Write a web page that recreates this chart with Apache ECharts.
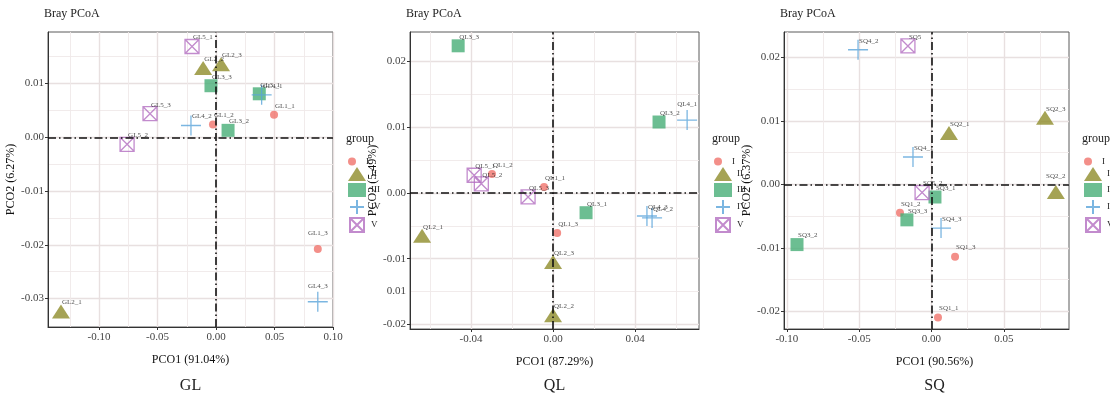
<!DOCTYPE html>
<html>
<head>
<meta charset="utf-8">
<script src="https://cdn.jsdelivr.net/npm/echarts@6/dist/echarts.min.js"></script>
<style>
  html, body { margin: 0; padding: 0; background: #fff; }
  #chart { width: 1110px; height: 397px; }
</style>
</head>
<body>
<div id="chart"></div>
<script>
const groups = ["I", "II", "III", "IV", "V"];

// GL panel
const glNames = ["GL1_1", "GL1_2", "GL1_3", "GL2_1", "GL2_2", "GL2_3", "GL3_1", "GL3_2", "GL3_3", "GL4_1", "GL4_2", "GL4_3", "GL5_1", "GL5_2", "GL5_3"];
const glGroup = ["I", "I", "I", "II", "II", "II", "III", "III", "III", "IV", "IV", "IV", "V", "V", "V"];
const glX = [0.0496, -0.0026, 0.087, -0.1325, -0.011, 0.0043, 0.037, 0.0103, -0.0043, 0.039, -0.0214, 0.087, -0.0205, -0.076, -0.0564];
const glY = [0.0042, 0.0024, -0.0208, -0.0324, 0.0129, 0.0136, 0.0081, 0.0013, 0.0096, 0.0079, 0.0022, -0.0306, 0.0169, -0.0013, 0.0044];
const glXRange = [-0.1436, 0.10];
const glYRange = [-0.0353, 0.0196];
const glXTicks = [-0.10, -0.05, 0, 0.05, 0.10];
const glXMinor = [-0.125, -0.075, -0.025, 0.025, 0.075];
const glYTicks = [-0.03, -0.02, -0.01, 0, 0.01];
const glYMinor = [-0.025, -0.015, -0.005, 0.005, 0.015];
const glYLabels = ["-0.03", "-0.02", "-0.01", "0.00", "0.01"];
const glXLabels = ["-0.10", "-0.05", "0.00", "0.05", "0.10"];

// QL panel
const qlNames = ["QL1_1", "QL1_2", "QL1_3", "QL2_1", "QL2_2", "QL2_3", "QL3_1", "QL3_2", "QL3_3", "QL4_1", "QL4_2", "QL4_3", "QL5_1", "QL5_2", "QL5_3"];
const qlGroup = ["I", "I", "I", "II", "II", "II", "III", "III", "III", "IV", "IV", "IV", "V", "V", "V"];
const qlX = [-0.0044, -0.0298, 0.002, -0.0639, 0.0, 0.0, 0.0161, 0.0517, -0.0463, 0.0654, 0.0483, 0.0458, -0.0385, -0.035, -0.0122];
const qlY = [0.0009, 0.0029, -0.0061, -0.0065, -0.0186, -0.0105, -0.003, 0.0108, 0.0224, 0.0111, -0.0038, -0.0035, 0.0027, 0.0014, -0.0006];
const qlXRange = [-0.0698, 0.0712];
const qlYRange = [-0.0207, 0.0245];
const qlXTicks = [-0.04, 0, 0.04];
const qlXMinor = [-0.06, -0.02, 0.02, 0.06];
const qlYTicks = [-0.02, -0.01, 0, 0.01, 0.02];
const qlYMinor = [-0.015, -0.005, 0.005, 0.015];
const qlXLabels = ["-0.04", "0.00", "0.04"];
// the original shows a stray "0.01" label at -0.015
const qlYLabelVals = [-0.02, -0.015, -0.01, 0, 0.01, 0.02];
const qlYLabels = ["-0.02", "0.01", "-0.01", "0.00", "0.01", "0.02"];

// SQ panel
const sqNames = ["SQ1_1", "SQ1_2", "SQ1_3", "SQ2_1", "SQ2_2", "SQ2_3", "SQ3_1", "SQ3_2", "SQ3_3", "SQ4_1", "SQ4_2", "SQ4_3", "SQ5", "SQ5_2"];
const sqGroup = ["I", "I", "I", "II", "II", "II", "III", "III", "III", "IV", "IV", "IV", "V", "V"];
const sqX = [0.0045, -0.0218, 0.0163, 0.0121, 0.086, 0.0785, 0.0024, -0.093, -0.017, -0.0128, -0.0508, 0.0066, -0.0163, -0.0065];
const sqY = [-0.021, -0.0045, -0.0114, 0.0081, -0.0012, 0.0105, -0.002, -0.0095, -0.0056, 0.0043, 0.0212, -0.0069, 0.0218, -0.0013];
const sqXRange = [-0.102, 0.0951];
const sqYRange = [-0.0228, 0.024];
const sqXTicks = [-0.10, -0.05, 0, 0.05];
const sqXMinor = [-0.075, -0.025, 0.025, 0.075];
const sqYTicks = [-0.02, -0.01, 0, 0.01, 0.02];
const sqYMinor = [-0.015, -0.005, 0.005, 0.015];
const sqXLabels = ["-0.10", "-0.05", "0.00", "0.05"];
const sqYLabels = ["-0.02", "-0.01", "0.00", "0.01", "0.02"];

const panels = [
  { names: glNames, group: glGroup, x: glX, y: glY, xRange: glXRange, yRange: glYRange,
    xTicks: glXTicks, xMinor: glXMinor, xLabelVals: glXTicks, xLabels: glXLabels,
    yTicks: glYTicks, yMinor: glYMinor, yLabelVals: glYTicks, yLabels: glYLabels,
    xName: "PCO1 (91.04%)", yName: "PCO2 (6.27%)", tag: "GL",
    grid: { left: 48, top: 32, width: 285, height: 295 }, yGap: 30, xShift: 0 },
  { names: qlNames, group: qlGroup, x: qlX, y: qlY, xRange: qlXRange, yRange: qlYRange,
    xTicks: qlXTicks, xMinor: qlXMinor, xLabelVals: qlXTicks, xLabels: qlXLabels,
    yTicks: qlYTicks, yMinor: qlYMinor, yLabelVals: qlYLabelVals, yLabels: qlYLabels,
    xName: "PCO1 (87.29%)", yName: "PCO2 (5.49%)", tag: "QL",
    grid: { left: 410, top: 32, width: 289, height: 297 }, yGap: 30, xShift: 0 },
  { names: sqNames, group: sqGroup, x: sqX, y: sqY, xRange: sqXRange, yRange: sqYRange,
    xTicks: sqXTicks, xMinor: sqXMinor, xLabelVals: sqXTicks, xLabels: sqXLabels,
    yTicks: sqYTicks, yMinor: sqYMinor, yLabelVals: sqYTicks, yLabels: sqYLabels,
    xName: "PCO1 (90.56%)", yName: "PCO2 (6.37%)", tag: "SQ",
    grid: { left: 784, top: 32, width: 285, height: 297 }, yGap: 27, xShift: 16 }
];

const FONT = "Liberation Serif";
const plusPath = "path://M0 10L20 10M10 0L10 20";
const boxXPath = "path://M0 0L14 0L14 14L0 14ZM0 0L14 14M14 0L0 14";

const groupStyle = {
  I:   { symbol: "circle", symbolSize: 8, itemStyle: { color: "#F0736C" } },
  II:  { symbol: "triangle", symbolSize: [18, 14], itemStyle: { color: "#8F8C2B" } },
  III: { symbol: "rect", symbolSize: 13, itemStyle: { color: "#47AE77" } },
  IV:  { symbol: plusPath, symbolSize: 20, itemStyle: { color: "rgba(0,0,0,0)", borderColor: "#5AA4DA", borderWidth: 1.3 } },
  V:   { symbol: boxXPath, symbolSize: 14, itemStyle: { color: "rgba(0,0,0,0)", borderColor: "#B36EC1", borderWidth: 1.3 } }
};

function pick(vals, labels) {
  return function (v) {
    for (let i = 0; i < vals.length; i++) {
      if (Math.abs(vals[i] - v) < 1e-9) return labels[i];
    }
    return "";
  };
}

const grids = [], xAxes = [], yAxes = [], series = [], legends = [], graphics = [];

panels.forEach((p, pi) => {
  grids.push(Object.assign({ show: true, borderColor: "#5a5a5a", borderWidth: 1, backgroundColor: "#fff", containLabel: false, outerBoundsMode: "none" }, p.grid));

  const axisText = { fontSize: 11, fontFamily: FONT, color: "#444" };
  // major axes
  xAxes.push({
    type: "value", gridIndex: pi, min: p.xRange[0], max: p.xRange[1], position: "bottom",
    name: p.xName, nameLocation: "middle", nameGap: 27,
    nameTextStyle: { fontSize: 12, fontFamily: FONT, color: "#111", padding: [0, 0, 0, p.xShift] },
    axisLine: { show: true, onZero: false, lineStyle: { color: "#333", width: 1 } },
    axisTick: { show: true, length: 3, customValues: p.xTicks, lineStyle: { color: "#333" } },
    axisLabel: Object.assign({ margin: 5, customValues: p.xLabelVals, formatter: pick(p.xLabelVals, p.xLabels) }, axisText),
    splitLine: { show: true, lineStyle: { color: "#E8E0E0", width: 1.4 } }
  });
  yAxes.push({
    type: "value", gridIndex: pi, min: p.yRange[0], max: p.yRange[1], position: "left",
    name: p.yName, nameLocation: "middle", nameGap: p.yGap,
    nameTextStyle: { fontSize: 12, fontFamily: FONT, color: "#111" },
    axisLine: { show: true, onZero: false, lineStyle: { color: "#333", width: 1 } },
    axisTick: { show: true, length: 3, customValues: p.yTicks, lineStyle: { color: "#333" } },
    axisLabel: Object.assign({ margin: 4, customValues: p.yLabelVals, formatter: pick(p.yLabelVals, p.yLabels) }, axisText),
    splitLine: { show: true, lineStyle: { color: "#E8E0E0", width: 1.4 } }
  });
  // minor grid axes
  xAxes.push({
    type: "value", gridIndex: pi, min: p.xRange[0], max: p.xRange[1], position: "bottom",
    axisLine: { show: false, onZero: false }, axisLabel: { show: false },
    axisTick: { show: false, customValues: p.xMinor },
    splitLine: { show: true, lineStyle: { color: "#EFE9E9", width: 0.9 } }
  });
  yAxes.push({
    type: "value", gridIndex: pi, min: p.yRange[0], max: p.yRange[1], position: "left",
    axisLine: { show: false, onZero: false }, axisLabel: { show: false },
    axisTick: { show: false, customValues: p.yMinor },
    splitLine: { show: true, lineStyle: { color: "#EFE9E9", width: 0.9 } }
  });

  const spanX = p.xRange[1] - p.xRange[0];
  groups.forEach((g, gi) => {
    const data = [];
    p.names.forEach((n, i) => {
      if (p.group[i] !== g) return;
      const item = { value: [p.x[i], p.y[i], n] };
      // labels that would run past the right edge of the panel sit centred above
      if ((p.xRange[1] - p.x[i]) / spanX * p.grid.width < 16) {
        item.label = { align: "center", offset: [0, -16] };
      }
      data.push(item);
    });
    const s = Object.assign({
      type: "scatter", name: g, xAxisIndex: pi * 2, yAxisIndex: pi * 2,
      data: data, z: 3,
      label: {
        show: true, position: "inside", align: "left", verticalAlign: "middle",
        offset: [1, -9], formatter: (d) => d.value[2],
        fontSize: 7, fontFamily: FONT, color: "#222"
      },
      emphasis: { disabled: true }
    }, groupStyle[g]);
    if (gi === 0) {
      s.markLine = {
        silent: true, symbol: "none", label: { show: false },
        lineStyle: { color: "#111", width: 1.6, type: [8, 3, 1.5, 3] },
        data: [{ xAxis: 0 }, { yAxis: 0 }]
      };
    }
    series.push(s);
  });

  const lx = p.grid.left + p.grid.width + 10;
  legends.push({
    data: ["I"], orient: "vertical", left: lx, top: 152, itemWidth: 18, itemHeight: 8,
    selectedMode: false, textStyle: { fontSize: 9, fontFamily: FONT, color: "#222" }
  });
  legends.push({
    data: ["II", "III", "IV", "V"], orient: "vertical", left: lx, top: 162, itemWidth: 18, itemHeight: 14, itemGap: 2,
    selectedMode: false, textStyle: { fontSize: 9, fontFamily: FONT, color: "#222" }
  });

  graphics.push({ type: "text", left: p.grid.left - 4, top: 8, style: { text: "Bray PCoA", font: "12px " + FONT, fill: "#222" } });
  graphics.push({ type: "text", left: lx + 3, top: 133, style: { text: "group", font: "12px " + FONT, fill: "#222" } });
  graphics.push({ type: "text", x: p.grid.left + p.grid.width / 2 + p.xShift / 2, y: 386,
    style: { text: p.tag, font: "16px " + FONT, fill: "#222", textAlign: "center", textVerticalAlign: "middle" } });
});

const chart = echarts.init(document.getElementById("chart"));
chart.setOption({
  backgroundColor: "#fff",
  animation: false,
  grid: grids,
  xAxis: xAxes,
  yAxis: yAxes,
  legend: legends,
  series: series,
  graphic: graphics
});
</script>
</body>
</html>
